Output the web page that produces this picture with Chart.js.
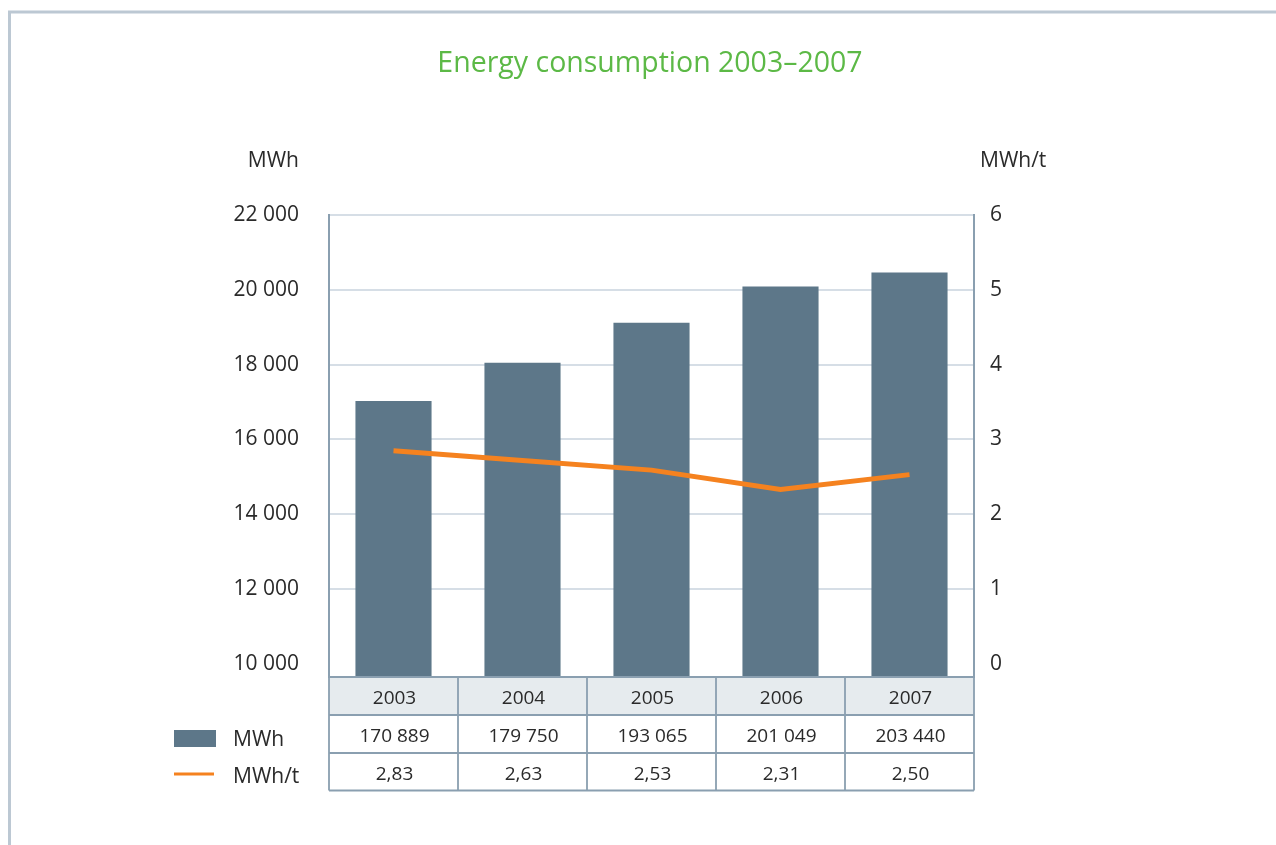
<!DOCTYPE html>
<html lang="en">
<head>
    <meta charset="UTF-8">
    <title>Energy consumption 2003–2007</title>
    <script src="https://cdn.jsdelivr.net/npm/chart.js"></script>
    <style>
        body { margin: 0; background: #fff; }
        #wrap { width: 1276px; height: 845px; }
    </style>
</head>
<body>
    <div id="wrap"><canvas id="energyChart" width="1276" height="845"></canvas></div>

    <script>
        // data
        const years = ['2003', '2004', '2005', '2006', '2007'];
        const mwhBars = [17030, 18050, 19120, 20090, 20460];
        const mwhPerTon = [2.85, 2.72, 2.59, 2.33, 2.53];
        const mwhTableRow = ['170 889', '179 750', '193 065', '201 049', '203 440'];
        const perTonTableRow = ['2,83', '2,63', '2,53', '2,31', '2,50'];
        const leftTicks = [10000, 12000, 14000, 16000, 18000, 20000, 22000];
        const rightTicks = [0, 1, 2, 3, 4, 5, 6];

        const FONT = '"Open Sans", "DejaVu Sans", sans-serif';
        const BAR = '#5d7789';
        const LINE = '#f5821f';
        const TEXT = '#2a2a2a';
        const GRID = '#d6dee6';
        const EDGE = '#8a9fb0';

        const fmt = v => String(v).replace(/\B(?=(\d{3})+(?!\d))/g, ' ');

        // frame, title, unit labels, legend and the data table under the plot
        const decorations = {
            id: 'decorations',
            afterDraw(chart) {
                const ctx = chart.ctx;
                const area = chart.chartArea;
                const x = chart.scales.x;
                ctx.save();

                // light frame on top and left
                ctx.strokeStyle = '#bcc8d3';
                ctx.lineWidth = 3;
                ctx.beginPath();
                ctx.moveTo(9.5, 845);
                ctx.lineTo(9.5, 12);
                ctx.lineTo(1276, 12);
                ctx.stroke();

                // title
                ctx.fillStyle = '#5cb946';
                ctx.font = '28.5px ' + FONT;
                ctx.textAlign = 'center';
                ctx.textBaseline = 'middle';
                ctx.fillText('Energy consumption 2003–2007', 650, 64);

                // unit labels
                ctx.fillStyle = TEXT;
                ctx.font = '21px ' + FONT;
                ctx.textAlign = 'right';
                ctx.fillText('MWh', 299, 161);
                ctx.textAlign = 'left';
                ctx.fillText('MWh/t', 980, 161);

                // table
                const cellW = (area.right - area.left) / years.length;
                const rowTops = [area.bottom, 715, 753, 790.5];
                ctx.fillStyle = '#e6ebee';
                ctx.fillRect(area.left, rowTops[0], area.right - area.left, rowTops[1] - rowTops[0]);

                ctx.strokeStyle = EDGE;
                ctx.lineWidth = 1.8;
                ctx.beginPath();
                rowTops.forEach(y => {
                    ctx.moveTo(area.left, y);
                    ctx.lineTo(area.right, y);
                });
                for (let i = 0; i <= years.length; i++) {
                    const cx = area.left + i * cellW;
                    ctx.moveTo(cx, rowTops[0]);
                    ctx.lineTo(cx, rowTops[3]);
                }
                ctx.stroke();

                ctx.fillStyle = TEXT;
                ctx.font = '19px ' + FONT;
                ctx.textAlign = 'center';
                const rows = [years, mwhTableRow, perTonTableRow];
                rows.forEach((row, r) => {
                    const cy = (rowTops[r] + rowTops[r + 1]) / 2 + 3;
                    row.forEach((txt, i) => {
                        ctx.fillText(txt, x.getPixelForValue(i) + 1, cy);
                    });
                });

                // legend
                ctx.fillStyle = BAR;
                ctx.fillRect(174, 730, 42, 17);
                ctx.strokeStyle = LINE;
                ctx.lineWidth = 3;
                ctx.beginPath();
                ctx.moveTo(174, 774);
                ctx.lineTo(214, 774);
                ctx.stroke();
                ctx.fillStyle = TEXT;
                ctx.font = '21px ' + FONT;
                ctx.textAlign = 'left';
                ctx.fillText('MWh', 233, 740);
                ctx.fillText('MWh/t', 233, 777);

                ctx.restore();
            }
        };

        const ctx = document.getElementById('energyChart').getContext('2d');
        const chart = new Chart(ctx, {
            data: {
                labels: years,
                datasets: [
                    {
                        type: 'line',
                        label: 'MWh/t',
                        data: mwhPerTon,
                        yAxisID: 'y2',
                        borderColor: LINE,
                        borderWidth: 5,
                        pointRadius: 0,
                        tension: 0,
                        order: 0
                    },
                    {
                        type: 'bar',
                        label: 'MWh',
                        data: mwhBars,
                        yAxisID: 'y',
                        backgroundColor: BAR,
                        barPercentage: 0.59,
                        categoryPercentage: 1,
                        order: 1
                    }
                ]
            },
            options: {
                responsive: false,
                animation: false,
                layout: { padding: { top: 215, bottom: 168, left: 0, right: 0 } },
                plugins: { legend: { display: false }, tooltip: { enabled: false } },
                scales: {
                    x: {
                        display: false,
                        offset: true
                    },
                    y: {
                        position: 'left',
                        min: 9650,
                        max: 22000,
                        afterBuildTicks: s => { s.ticks = leftTicks.map(v => ({ value: v })); },
                        afterFit: s => { s.width = 329; },
                        ticks: {
                            color: TEXT,
                            font: { family: FONT, size: 21 },
                            padding: 30,
                            callback: v => fmt(v)
                        },
                        grid: {
                            drawTicks: false,
                            lineWidth: 2,
                            color: c => c.tick && c.tick.value === 10000 ? 'rgba(0,0,0,0)' : GRID
                        },
                        border: { color: EDGE, width: 2 }
                    },
                    y2: {
                        position: 'right',
                        min: -0.175,
                        max: 6,
                        afterBuildTicks: s => { s.ticks = rightTicks.map(v => ({ value: v })); },
                        afterFit: s => { s.width = 302; },
                        ticks: {
                            color: TEXT,
                            font: { family: FONT, size: 21 },
                            padding: 16
                        },
                        grid: { display: false, drawTicks: false },
                        border: { color: EDGE, width: 2 }
                    }
                }
            },
            plugins: [decorations]
        });
    </script>
</body>
</html>
